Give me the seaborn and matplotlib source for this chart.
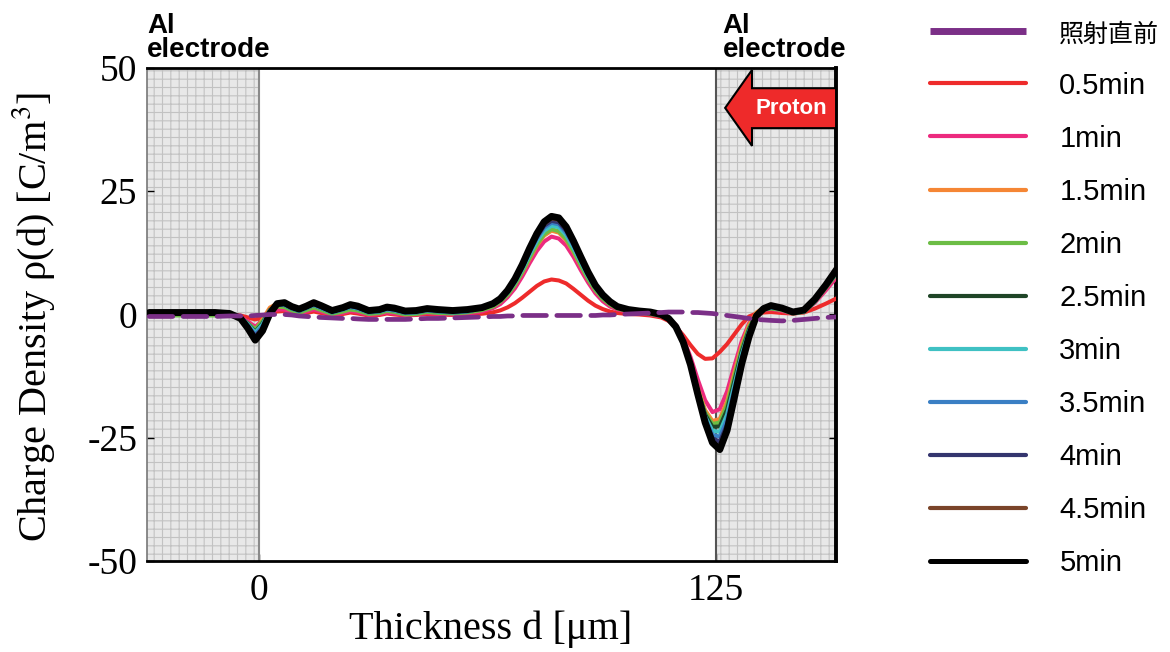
import numpy as np
import pandas as pd
import seaborn as sns
import matplotlib.pyplot as plt
from matplotlib.lines import Line2D
from matplotlib.patches import Polygon

# thickness grid [um] shared by every measured profile
thickness = [-30, -20, -12, -8, -5, -3, -1, 1, 3, 5,
             7, 9, 11, 13, 15, 17, 20, 23, 25, 27,
             30, 33, 35, 37, 40, 43, 46, 49, 53, 57,
             61, 64, 66, 68, 70, 72, 74, 76, 78, 80,
             82, 84, 86, 88, 90, 92, 94, 96,
             98, 101, 104, 107,
             110, 112, 114, 116, 118, 120, 122, 124,
             126, 128, 130, 132, 134, 136, 138, 140,
             143, 146, 149, 152, 155, 158]

labels = ['照射直前', '0.5min', '1min', '1.5min', '2min', '2.5min',
          '3min', '3.5min', '4min', '4.5min', '5min']

# charge density [C/m^3]
rho_before = [-0.4, -0.4, -0.4, -0.3, -0.3, -0.3, -0.2, -0.1, 0.0, 0.0,
              0.0, -0.1, -0.3, -0.4, -0.5, -0.6, -0.7, -0.8, -0.8, -0.9,
              -1.0, -1.0, -1.0, -1.0, -1.0, -0.9, -0.8, -0.8, -0.7, -0.6,
              -0.5, -0.4, -0.4, -0.3, -0.3, -0.2, -0.2, -0.2, -0.2, -0.2,
              -0.2, -0.2, -0.2, -0.2, -0.2, -0.2, -0.1, -0.1,
              0.0, 0.1, 0.2, 0.3,
              0.4, 0.5, 0.5, 0.5, 0.4, 0.4, 0.3, 0.2,
              0.0, -0.2, -0.4, -0.6, -0.8, -1.0, -1.1, -1.2,
              -1.3, -1.2, -1.0, -0.8, -0.6, -0.5]
rho_05 = [0.0, 0.0, 0.0, 0.0, -0.2, -0.6, -1.0, -0.6, 0.1, 0.6,
          0.7, 0.3, 0.0, 0.3, 0.6, 0.3, -0.2, 0.1, 0.4, 0.2,
          -0.2, -0.1, 0.2, 0.0, -0.2, -0.1, 0.1, 0.0, -0.1, 0.0,
          0.15, 0.44, 0.83, 1.45, 2.3, 3.4, 4.6, 5.8, 6.7, 7.1,
          6.9, 6.3, 5.2, 4.0, 2.8, 1.8, 1.1, 0.6,
          0.3, 0.1, 0.0, -0.2,
          -0.6, -1.3, -2.5, -4.2, -6.2, -8.0, -9.0, -8.9,
          -7.6, -6.0, -4.0, -2.0, -0.4, 0.2, 0.4, 0.5,
          0.3, 0.2, 0.4, 1.2, 2.2, 3.3]
rho_1 = [-0.1, -0.1, -0.1, -0.1, -0.5, -1.4, -2.5, -1.2, 0.4, 1.0,
         1.0, 0.5, 0.1, 0.6, 1.0, 0.6, -0.1, 0.3, 0.7, 0.5,
         -0.1, 0.1, 0.4, 0.2, -0.1, 0.0, 0.3, 0.1, 0.0, 0.2,
         0.6, 1.3, 2.1, 3.5, 5.3, 7.7, 10.4, 12.9, 14.8, 15.8,
         15.4, 14.0, 11.7, 9.0, 6.5, 4.3, 2.7, 1.6,
         1.0, 0.5, 0.3, 0.0,
         -0.4, -0.9, -2.1, -4.8, -8.6, -13.2, -17.4, -19.8,
         -19.2, -15.6, -10.4, -5.4, -1.8, 0.2, 0.9, 1.1,
         0.7, 0.2, 0.5, 2.4, 4.9, 7.6]
rho_15 = [0.0, 0.0, 0.0, -0.1, -0.7, -2.0, -3.2, -1.0, 1.4, 2.2,
          1.9, 1.2, 0.8, 1.3, 1.9, 1.3, 0.5, 1.1, 1.5, 1.2,
          0.5, 0.7, 1.1, 0.9, 0.4, 0.5, 0.9, 0.7, 0.5, 0.7,
          1.1, 1.8, 2.7, 4.1, 6.1, 8.5, 11.3, 14.0, 16.0, 17.0,
          16.6, 15.1, 12.7, 9.9, 7.2, 5.0, 3.3, 2.2,
          1.4, 0.9, 0.6, 0.3,
          -0.2, -0.8, -2.3, -5.3, -9.6, -15.0, -19.4, -21.6,
          -21.2, -17.6, -11.8, -6.3, -2.1, 0.4, 1.3, 1.5,
          1.1, 0.4, 0.7, 2.9, 5.8, 8.8]
rho_2 = [-0.2, -0.2, -0.2, -0.2, -0.7, -1.8, -3.0, -1.4, 0.8, 1.6,
         1.5, 0.8, 0.3, 0.9, 1.4, 0.9, 0.1, 0.6, 1.0, 0.8,
         0.1, 0.3, 0.7, 0.5, 0.0, 0.1, 0.5, 0.3, 0.2, 0.4,
         0.9, 1.6, 2.6, 4.0, 6.0, 8.6, 11.5, 14.2, 16.3, 17.3,
         16.9, 15.3, 12.9, 10.0, 7.2, 4.9, 3.2, 2.0,
         1.2, 0.7, 0.4, 0.1,
         -0.3, -0.9, -2.4, -5.4, -9.8, -15.3, -19.9, -22.2,
         -21.9, -18.4, -12.6, -6.9, -2.6, 0.1, 1.0, 1.2,
         0.9, 0.2, 0.5, 2.6, 5.4, 8.3]
rho_25 = [0.1, 0.1, 0.1, 0.0, -0.6, -1.9, -3.5, -1.8, 0.9, 2.0,
          1.9, 1.2, 0.7, 1.3, 1.9, 1.3, 0.4, 1.0, 1.5, 1.2,
          0.4, 0.6, 1.0, 0.8, 0.3, 0.4, 0.8, 0.6, 0.4, 0.6,
          1.3, 2.0, 3.0, 4.5, 6.6, 9.3, 12.3, 15.2, 17.4, 18.4,
          18.1, 16.4, 13.8, 10.8, 7.9, 5.5, 3.6, 2.4,
          1.5, 1.0, 0.7, 0.4,
          -0.2, -0.8, -2.4, -5.4, -9.9, -15.5, -20.3, -22.8,
          -22.7, -19.3, -13.4, -7.5, -3.0, 0.0, 1.1, 1.5,
          1.1, 0.3, 0.6, 2.7, 5.6, 8.6]
rho_3 = [0.1, 0.1, 0.1, 0.0, -0.6, -2.0, -3.7, -2.0, 0.8, 2.0,
         1.9, 1.2, 0.7, 1.3, 1.9, 1.3, 0.4, 1.0, 1.5, 1.2,
         0.4, 0.6, 1.0, 0.8, 0.3, 0.4, 0.8, 0.6, 0.4, 0.6,
         1.3, 2.0, 2.9, 4.4, 6.5, 9.1, 12.1, 14.9, 17.0, 18.0,
         17.7, 16.1, 13.5, 10.6, 7.7, 5.4, 3.6, 2.4,
         1.5, 1.0, 0.7, 0.4,
         -0.2, -0.8, -2.4, -5.5, -10.0, -15.7, -20.7, -23.6,
         -23.8, -20.3, -14.3, -8.1, -3.4, -0.1, 1.0, 1.4,
         1.1, 0.3, 0.6, 2.7, 5.6, 8.6]
rho_35 = [0.2, 0.2, 0.2, 0.1, -0.6, -2.2, -4.1, -2.4, 0.6, 2.0,
          2.0, 1.3, 0.8, 1.4, 2.0, 1.4, 0.5, 1.1, 1.6, 1.3,
          0.5, 0.7, 1.1, 0.9, 0.4, 0.5, 0.9, 0.7, 0.5, 0.7,
          1.3, 2.0, 3.0, 4.5, 6.7, 9.4, 12.5, 15.4, 17.6, 18.6,
          18.3, 16.6, 14.0, 10.9, 8.0, 5.5, 3.7, 2.4,
          1.5, 1.0, 0.7, 0.5,
          -0.1, -0.8, -2.4, -5.5, -10.0, -15.8, -21.0, -24.4,
          -24.8, -21.3, -15.1, -8.8, -3.8, -0.2, 1.0, 1.5,
          1.2, 0.4, 0.7, 2.8, 5.7, 8.7]
rho_4 = [0.2, 0.2, 0.2, 0.1, -0.7, -2.4, -4.4, -2.8, 0.4, 2.0,
         2.1, 1.4, 0.9, 1.5, 2.1, 1.5, 0.6, 1.2, 1.7, 1.4,
         0.6, 0.8, 1.2, 1.0, 0.5, 0.6, 1.0, 0.8, 0.6, 0.8,
         1.3, 2.0, 3.0, 4.6, 6.8, 9.6, 12.7, 15.7, 18.0, 19.0,
         18.7, 17.0, 14.3, 11.1, 8.1, 5.6, 3.7, 2.5,
         1.5, 1.0, 0.7, 0.5,
         0.0, -0.8, -2.4, -5.5, -10.1, -16.0, -21.4, -25.1,
         -25.8, -22.3, -15.9, -9.4, -4.1, -0.2, 1.1, 1.6,
         1.3, 0.5, 0.8, 2.9, 5.8, 8.8]
rho_45 = [0.5, 0.5, 0.5, 0.3, -0.7, -2.6, -4.8, -3.0, 0.3, 2.3,
          2.5, 1.7, 1.2, 1.8, 2.5, 1.9, 0.9, 1.5, 2.1, 1.8,
          0.9, 1.1, 1.6, 1.4, 0.8, 0.9, 1.3, 1.1, 0.9, 1.1,
          1.4, 2.2, 3.2, 4.8, 7.0, 9.9, 13.1, 16.1, 18.4, 19.5,
          19.2, 17.4, 14.7, 11.5, 8.4, 5.8, 3.9, 2.6,
          1.7, 1.1, 0.8, 0.6,
          0.1, -0.7, -2.4, -5.5, -10.2, -16.1, -21.7, -25.8,
          -27.0, -23.2, -16.6, -9.8, -4.4, -0.3, 1.2, 1.8,
          1.4, 0.6, 0.9, 3.2, 6.2, 9.5]
rho_5 = [0.4, 0.4, 0.4, 0.2, -0.8, -2.8, -5.2, -3.3, 0.2, 2.2,
         2.4, 1.6, 1.1, 1.7, 2.4, 1.8, 0.8, 1.4, 2.0, 1.7,
         0.8, 1.0, 1.5, 1.3, 0.7, 0.8, 1.2, 1.0, 0.8, 1.0,
         1.4, 2.2, 3.2, 4.9, 7.2, 10.1, 13.4, 16.4, 18.8, 19.9,
         19.6, 17.8, 14.9, 11.7, 8.6, 5.9, 4.0, 2.6,
         1.6, 1.0, 0.7, 0.5,
         0.0, -0.8, -2.5, -5.6, -10.2, -16.2, -21.9, -26.0,
         -27.4, -23.5, -16.8, -10.0, -4.5, -0.3, 1.2, 1.8,
         1.3, 0.5, 0.9, 3.1, 6.0, 9.2]

profiles = [rho_before, rho_05, rho_1, rho_15, rho_2, rho_25,
            rho_3, rho_35, rho_4, rho_45, rho_5]
colors = ['#7b2f87', '#ee2b2b', '#ec2a7e', '#f58634', '#6cbd45', '#1f4527',
          '#3fc1c3', '#3a7fc4', '#34356e', '#7a4429', '#000000']

df = pd.concat([pd.DataFrame({'thickness': thickness, 'rho': p, 'time': lab})
                for lab, p in zip(labels, profiles)], ignore_index=True)

sns.set_style("ticks")
plt.rcParams['font.family'] = ['Liberation Serif', 'DejaVu Serif']
plt.rcParams['mathtext.fontset'] = 'stix'
plt.rcParams['axes.unicode_minus'] = False
plt.rcParams['hatch.linewidth'] = 0.8
for key in ['text.color', 'axes.labelcolor', 'xtick.color', 'ytick.color']:
    plt.rcParams[key] = 'black'

fig = plt.figure(figsize=(11.7, 6.52), dpi=100)
ax = fig.add_axes([0.1256, 0.1396, 0.589, 0.7561])

xmin, xmax = -30.6, 157.8
ax.set_xlim(xmin, xmax)
ax.set_ylim(-50, 50)

# electrode regions
ax.axvspan(xmin, 0, facecolor='#e8e8e8', edgecolor='#c2c2c2', hatch='++', lw=0, zorder=0)
ax.axvspan(125, xmax, facecolor='#e8e8e8', edgecolor='#c2c2c2', hatch='++', lw=0, zorder=0)
ax.axvline(0, color='#8a8a8a', lw=1.5, zorder=1)
ax.axvline(125, color='#555555', lw=1.5, zorder=1)

# measured profiles: colours first, black on top, the pre-irradiation dashes last
for lab, col in list(zip(labels, colors))[1:]:
    lw = 5.0 if lab == '5min' else 2.9
    sns.lineplot(data=df[df['time'] == lab], x='thickness', y='rho',
                 color=col, lw=lw, ax=ax, legend=False, zorder=3,
                 solid_capstyle='round', solid_joinstyle='round')
sns.lineplot(data=df[df['time'] == labels[0]], x='thickness', y='rho',
             color=colors[0], lw=3.4, ax=ax, legend=False, zorder=4)
ax.lines[-1].set_dashes((5, 2.2))
ax.lines[-1].set_dash_capstyle('round')

ax.set_xticks([0, 125])
ax.set_yticks([-50, -25, 0, 25, 50])
ax.tick_params(direction='in', length=5, width=1, labelsize=27, pad=7,
               right=True, top=False)
ax.tick_params(axis='x', pad=9)
ax.set_xlabel('Thickness d [μm]', fontsize=29)
ax.set_ylabel('Charge Density ρ(d) [C/m$^3$]', fontsize=29)
ax.xaxis.set_label_coords(0.498, -0.1)
ax.yaxis.set_label_coords(-0.13, 0.495)

for side in ['top', 'bottom']:
    ax.spines[side].set_linewidth(2)
    ax.spines[side].set_color('black')
ax.spines['right'].set_linewidth(2.8)
ax.spines['right'].set_color('black')
ax.spines['left'].set_linewidth(1.2)
ax.spines['left'].set_color('#777777')

sans = ['Liberation Sans', 'DejaVu Sans']
ax.text(0.0, 1.112, 'Al\nelectrode', transform=ax.transAxes, family=sans,
        fontsize=20, fontweight='bold', va='top', ha='left', linespacing=0.92)
ax.text(0.835, 1.112, 'Al\nelectrode', transform=ax.transAxes, family=sans,
        fontsize=20, fontweight='bold', va='top', ha='left', linespacing=0.92)

# proton arrow entering from the right electrode
arrow = Polygon([(0.839, 0.919), (0.878, 0.996), (0.878, 0.959), (1.0, 0.959),
                 (1.0, 0.878), (0.878, 0.878), (0.878, 0.842)],
                closed=True, transform=ax.transAxes, facecolor='#ee2a2a',
                edgecolor='black', lw=1.5, zorder=5)
ax.add_patch(arrow)
ax.text(0.935, 0.917, 'Proton', transform=ax.transAxes, family=sans,
        fontsize=16, fontweight='bold', color='white', ha='center', va='center',
        zorder=6)

handles = []
for lab, col in zip(labels, colors):
    if lab == labels[0]:
        handles.append(Line2D([], [], color=col, lw=5, solid_capstyle='butt'))
    else:
        handles.append(Line2D([], [], color=col, lw=3.6 if lab == '5min' else 3,
                              solid_capstyle='round'))
leg = fig.legend(handles, labels, loc='upper left', bbox_to_anchor=(0.782, 0.99),
                 frameon=False, borderpad=0, handlelength=3.3, handletextpad=1.15,
                 labelspacing=0.86, prop={'family': ['Liberation Sans', 'Noto Sans CJK JP'],
                                          'size': 21})
leg.get_texts()[0].set_fontsize(18)

plt.savefig('out.png', dpi=100)
plt.close()
